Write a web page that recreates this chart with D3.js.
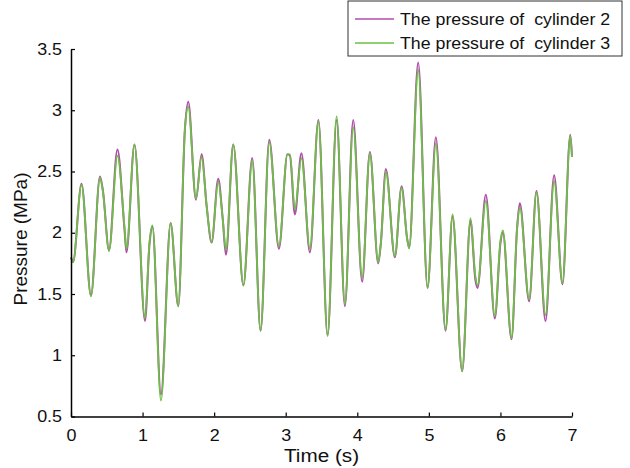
<!DOCTYPE html>
<html>
<head>
<meta charset="utf-8">
<script src="https://cdn.jsdelivr.net/npm/d3@7"></script>
<style>
  body { margin: 0; background: #fff; }
  text { font-family: "Liberation Sans", Arial, sans-serif; fill: #111; }
</style>
</head>
<body>
<div id="chart"></div>
<script>
// time (s) of the peaks / troughs
const time = [0, 0.028, 0.147, 0.279, 0.405, 0.447, 0.531, 0.649, 0.747, 0.775,
  0.887, 1.034, 1.096, 1.138, 1.257, 1.392, 1.499, 1.592, 1.638, 1.746,
  1.825, 1.895, 1.965, 2.057, 2.119, 2.165, 2.267, 2.409, 2.532, 2.649,
  2.770, 2.905, 3.024, 3.059, 3.128, 3.219, 3.338, 3.457, 3.585, 3.711,
  3.827, 3.943, 4.068, 4.176, 4.292, 4.330, 4.399, 4.525, 4.619, 4.697,
  4.725, 4.851, 4.982, 5.098, 5.233, 5.331, 5.465, 5.582, 5.649, 5.680,
  5.796, 5.922, 6.001, 6.034, 6.155, 6.233, 6.271, 6.401, 6.504, 6.630,
  6.750, 6.867, 6.976, 7.0];

// pressure of cylinder 2 (MPa)
const cyl2 = [1.80, 1.76, 2.40, 1.49, 2.46, 2.34, 1.86, 2.68, 2.03, 1.84,
  2.72, 1.28, 1.90, 2.05, 0.68, 2.08, 1.40, 2.85, 3.07, 2.27,
  2.64, 2.22, 1.92, 2.44, 2.12, 1.82, 2.72, 1.57, 2.61, 1.20,
  2.76, 1.87, 2.64, 2.63, 2.15, 2.65, 1.84, 2.92, 1.16, 2.92,
  1.40, 2.92, 1.60, 2.66, 1.75, 1.92, 2.52, 1.80, 2.38, 1.95,
  1.88, 3.39, 1.55, 2.78, 1.20, 2.13, 0.87, 2.10, 1.62, 1.55,
  2.31, 1.30, 1.92, 2.00, 1.13, 2.04, 2.24, 1.44, 2.34, 1.28,
  2.47, 1.58, 2.80, 2.62];

// pressure of cylinder 3 (MPa)
const cyl3 = [1.80, 1.76, 2.39, 1.48, 2.45, 2.33, 1.85, 2.63, 2.05, 1.87,
  2.72, 1.30, 1.92, 2.06, 0.63, 2.08, 1.40, 2.85, 3.03, 2.28,
  2.62, 2.22, 1.92, 2.42, 2.12, 1.86, 2.72, 1.57, 2.59, 1.20,
  2.74, 1.89, 2.64, 2.64, 2.19, 2.61, 1.87, 2.91, 1.16, 2.95,
  1.42, 2.86, 1.63, 2.65, 1.76, 1.92, 2.50, 1.81, 2.37, 1.95,
  1.87, 3.33, 1.55, 2.73, 1.21, 2.15, 0.87, 2.12, 1.65, 1.57,
  2.26, 1.32, 1.94, 2.02, 1.14, 2.04, 2.21, 1.46, 2.33, 1.33,
  2.42, 1.59, 2.79, 2.62];

const xTicks = [0, 1, 2, 3, 4, 5, 6, 7];
const yTicks = [0.5, 1, 1.5, 2, 2.5, 3, 3.5];
const seriesNames = ["The pressure of  cylinder 2", "The pressure of  cylinder 3"];
const colors = ["#b34dac", "#6cbf45"];

const width = 630, height = 468;
const margin = {left: 71, right: 58, top: 49, bottom: 51.5};

const svg = d3.select("#chart").append("svg")
    .attr("width", width)
    .attr("height", height);

const x = d3.scaleLinear().domain([0, 7]).range([margin.left, width - margin.right]);
const y = d3.scaleLinear().domain([0.5, 3.5]).range([height - margin.bottom, margin.top]);

const series = [cyl2, cyl3].map(function(vals) {
    return vals.map(function(v, i) { return [time[i], v]; });
});

const line = d3.line()
    .x(function(d) { return x(d[0]); })
    .y(function(d) { return y(d[1]); })
    .curve(d3.curveMonotoneX);

svg.append("g").selectAll("path")
    .data(series)
    .enter().append("path")
    .attr("d", line)
    .attr("fill", "none")
    .attr("stroke", function(d, i) { return colors[i]; })
    .attr("stroke-width", function(d, i) { return i == 0 ? 2 : 1.8; })
    .attr("stroke-linejoin", "round");

// axes, ticks pointing inward
const xAxis = svg.append("g")
    .attr("transform", "translate(0," + (height - margin.bottom) + ")")
    .call(d3.axisBottom(x).tickValues(xTicks).tickFormat(d3.format("d"))
        .tickSizeInner(-4).tickSizeOuter(0).tickPadding(13));

const yAxis = svg.append("g")
    .attr("transform", "translate(" + margin.left + ",0)")
    .call(d3.axisLeft(y).tickValues(yTicks).tickFormat(function(d) { return d; })
        .tickSizeInner(-4).tickSizeOuter(0).tickPadding(8));

[xAxis, yAxis].forEach(function(ax) {
    ax.select(".domain").attr("stroke", "#000").attr("stroke-width", 1.5);
    ax.selectAll(".tick line").attr("stroke", "#000").attr("stroke-width", 1.2);
    ax.selectAll(".tick text")
        .attr("fill", "#111")
        .style("font-size", "16px")
        .attr("transform", "scale(1.12,1)");
});

svg.append("text")
    .attr("x", (margin.left + width - margin.right) / 2)
    .attr("y", 462)
    .attr("text-anchor", "middle")
    .attr("transform", "translate(" + (-0.12 * 321) + ",0) scale(1.12,1)")
    .style("font-size", "18.5px")
    .text("Time (s)");

svg.append("text")
    .attr("transform", "translate(27,239) rotate(-90)")
    .attr("text-anchor", "middle")
    .style("font-size", "19px")
    .text("Pressure (MPa)");

// legend
const legend = svg.append("g").attr("transform", "translate(348,1)");
legend.append("rect")
    .attr("width", 274)
    .attr("height", 55)
    .attr("fill", "#fff")
    .attr("stroke", "#333")
    .attr("stroke-width", 1);

const items = legend.selectAll(".item")
    .data(seriesNames)
    .enter().append("g")
    .attr("class", "item")
    .attr("transform", function(d, i) { return "translate(0," + (18 + i * 24) + ")"; });

items.append("line")
    .attr("x1", 7).attr("x2", 46)
    .attr("y1", 0).attr("y2", 0)
    .attr("stroke", function(d) { return colors[seriesNames.indexOf(d)]; })
    .attr("stroke-width", 1.5);

items.append("text")
    .attr("x", 52 / 1.11)
    .attr("y", 0.5)
    .attr("dy", "0.36em")
    .attr("transform", "scale(1.11,1)")
    .style("font-size", "16px")
    .attr("xml:space", "preserve")
    .text(function(d) { return d; });
</script>
</body>
</html>
